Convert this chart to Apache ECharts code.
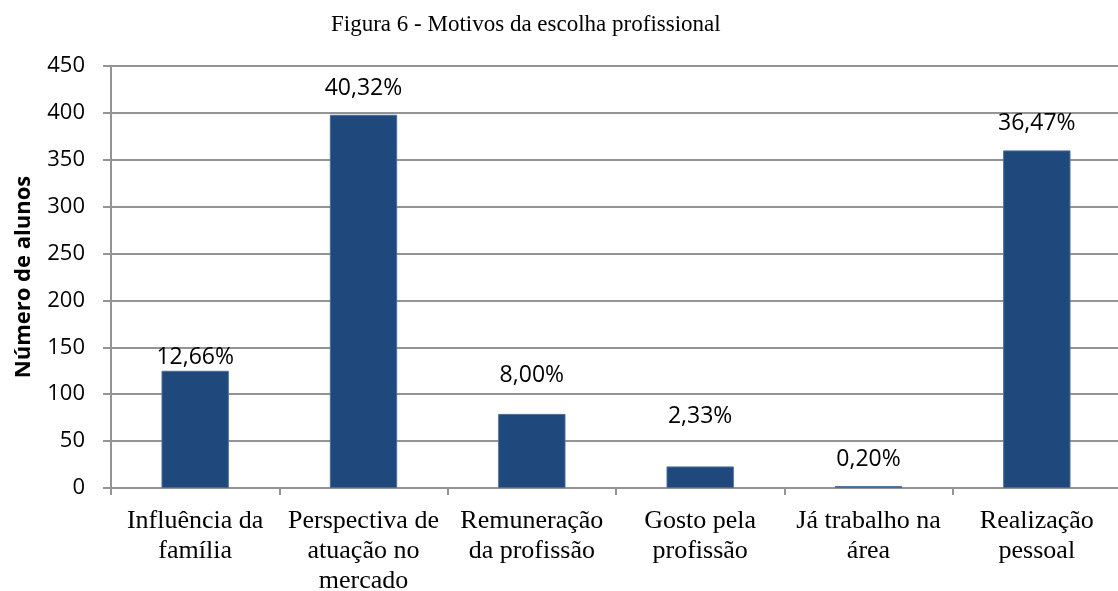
<!DOCTYPE html>
<html>
<head>
<meta charset="utf-8">
<script src="https://cdn.jsdelivr.net/npm/echarts@6/dist/echarts.min.js"></script>
<style>
  html, body { margin: 0; padding: 0; background: #fff; }
  #barGraph { width: 1118px; height: 591px; }
</style>
</head>
<body>
<div id="barGraph"></div>
<script>
// dados do gráfico
var categorias = [
  'Influência da\nfamília',
  'Perspectiva de\natuação no\nmercado',
  'Remuneração\nda profissão',
  'Gosto pela\nprofissão',
  'Já trabalho na\nárea',
  'Realização\npessoal'
];
var alunos = [125, 398, 79, 23, 2, 360];
var yTicks = [0, 50, 100, 150, 200, 250, 300, 350, 400, 450];

var total = alunos.reduce(function (a, b) { return a + b; }, 0);

// distância de cada rótulo (posição manual, como no original)
var labelGap = [2, 15, 27, 38, 15, 15];

var gridColor = '#949494';
var sans = 'Open Sans';
var serif = 'Liberation Serif';

var option = {
  animation: false,
  title: {
    text: 'Figura 6 - Motivos da escolha profissional',
    left: 326,
    top: 8,
    textStyle: { fontFamily: serif, fontSize: 23, fontWeight: 'normal', color: '#000' }
  },
  grid: {
    left: 111,
    top: 66,
    width: 1010,
    height: 422,
    containLabel: false,
    outerBoundsMode: 'none'
  },
  xAxis: {
    type: 'category',
    data: categorias,
    axisLine: { show: true, lineStyle: { color: gridColor, width: 2 } },
    axisTick: { show: true, length: 7, alignWithLabel: false, lineStyle: { color: gridColor, width: 2 } },
    axisLabel: {
      interval: 0,
      margin: 18,
      fontFamily: serif,
      fontSize: 26,
      lineHeight: 30,
      color: '#000'
    }
  },
  yAxis: {
    type: 'value',
    min: yTicks[0],
    max: yTicks[yTicks.length - 1],
    interval: yTicks[1] - yTicks[0],
    name: 'Número de alunos',
    nameLocation: 'middle',
    nameGap: 76,
    nameTextStyle: { fontFamily: sans, fontSize: 22, fontWeight: 'bold', color: '#000' },
    axisLine: { show: true, lineStyle: { color: gridColor, width: 2 } },
    axisTick: { show: true, length: 8, lineStyle: { color: gridColor, width: 2 } },
    axisLabel: { margin: 26, fontFamily: sans, fontSize: 22, color: '#000' },
    splitLine: { show: true, lineStyle: { color: gridColor, width: 2 } }
  },
  series: [{
    type: 'bar',
    barWidth: '40%',
    itemStyle: { color: '#1f497d', borderColor: '#4a6d9b', borderWidth: 1 },
    data: alunos.map(function (v, i) {
      return {
        value: v,
        label: { distance: labelGap[i] }
      };
    }),
    label: {
      show: true,
      position: 'top',
      fontFamily: sans,
      fontSize: 23,
      color: '#000',
      formatter: function (p) {
        return (p.value / total * 100).toFixed(2).replace('.', ',') + '%';
      }
    }
  }]
};

var myChart = echarts.init(document.getElementById('barGraph'));
myChart.setOption(option);
</script>
</body>
</html>
